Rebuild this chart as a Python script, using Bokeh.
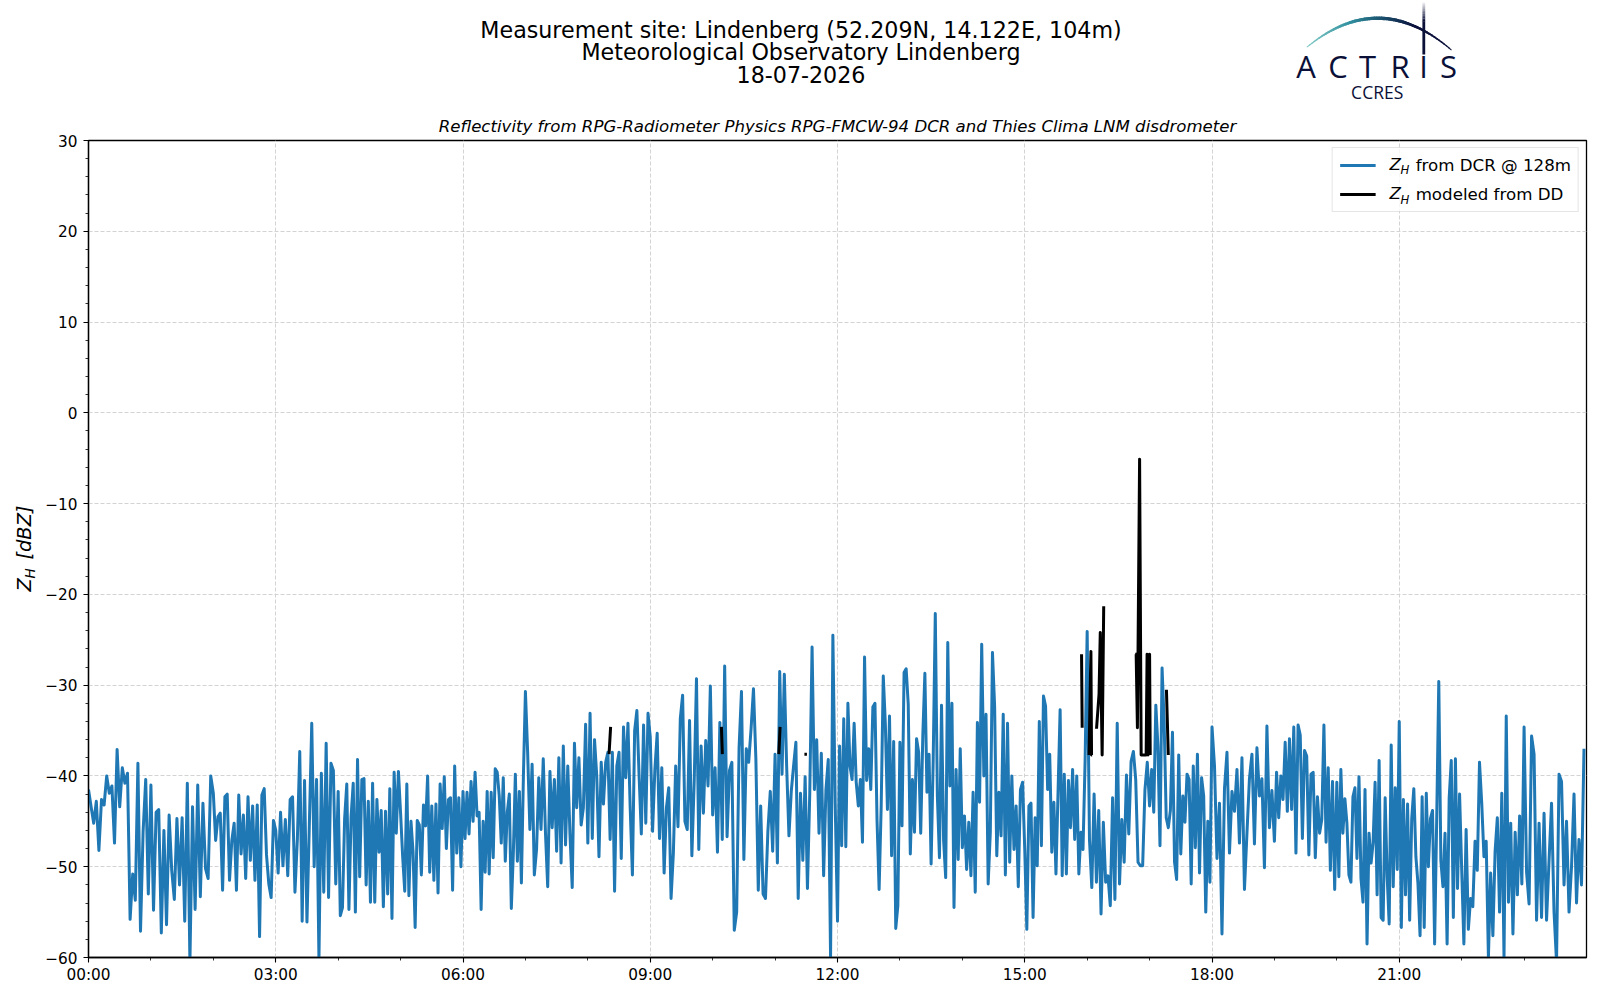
import math
from bokeh.plotting import figure
from bokeh.layouts import column, row
from bokeh.models import (Range1d, FixedTicker, Label, Legend, LegendItem, BoxAnnotation)
from bokeh.core.properties import value
from bokeh.embed import file_html
from bokeh.resources import INLINE

title_lines = ["Measurement site: Lindenberg (52.209N, 14.122E, 104m)",
               "Meteorological Observatory Lindenberg", "18-07-2026"]
subtitle = "Reflectivity from RPG-Radiometer Physics RPG-FMCW-94 DCR and Thies Clima LNM disdrometer"
x_tick_hours = [0, 3, 6, 9, 12, 15, 18, 21]
x_tick_labels = ["00:00", "03:00", "06:00", "09:00", "12:00", "15:00", "18:00", "21:00"]
y_ticks = [-60, -50, -40, -30, -20, -10, 0, 10, 20, 30]
dcr_label = "from DCR @ 128m"
dd_label = "modeled from DD"

h00 = [-41.5,-43.4,-45.2,-42.8,-48.2,-42.6,-43.2,-40,-41.9,-41.1,-47.4,-37.1,-43.4,-39.1,-40.8,-39.7,-55.8,-50.8,-53.7,-38.6,-57.1,-46.1,-40.4,-53]
h01 = [-41,-54.8,-44,-43.7,-57.3,-46,-56.4,-44.3,-50.4,-53.6,-44.7,-52,-44.6,-56,-40.8,-60.5,-43.4,-54.7,-41,-53.3,-43,-50.2,-51.3,-40]
h02 = [-41.9,-47.1,-44.5,-44.1,-52.6,-42.3,-42,-51.5,-47.1,-45.2,-52.6,-42.1,-48.6,-44.3,-51.3,-42.3,-49.3,-43.3,-51.5,-43.2,-57.7,-42.1,-41.4,-48.7,-51.9,-53.4,-44.9]
h03 = [-46,-50.7,-44,-49.9,-44.8,-51,-42.6,-42.3,-52.8,-47,-37.3,-56,-40.5,-56.1,-45.3,-34.2,-50,-40.4,-60.2,-39.7,-52.8,-36.4,-53.4,-38.6,-39.4,-51.9]
h04 = [-41.7,-55.4,-54.5,-44.7,-40.9,-54.7,-44.5,-40.8,-55,-38.2,-51.1,-40.4,-40.3,-52,-42.8,-53.9,-40.8,-53.9,-42.6,-48.4,-43.8,-54.4,-43.9,-53,-41.4,-55.7,-39.6,-46.3,-39.5]
h05 = [-44.1,-48.9,-52.7,-40.9,-53.2,-45,-48.4,-56.7,-44.9,-45.4,-50.9,-43.2,-45.5,-40,-50.6,-43.3,-51.5,-43.1,-52.9,-40.9,-45.8,-40.1,-48,-42.6,-42.4,-52.6,-38.9,-48.5,-42.4,-50]
h06 = [-41.7,-46.9,-41.8,-46.4,-40.6,-45,-39.6,-44.4,-44,-54.7,-45,-50.6,-41.7,-50.8,-41.8,-49,-39.2,-39.6,-42.2,-47.4,-40.2,-49.4,-44,-42,-54.6,-48.5,-39.8,-49.4,-41.7,-51.8,-40]
h07 = [-30.7,-37.4,-45.9,-38.7,-50.9,-48.1,-40.2,-45.9,-38.1,-46.3,-52.2,-39.5,-45.7,-40.4,-48.3,-38,-49.6,-36.7,-47.6,-38.9,-46.5,-52.3,-36.4,-43.5,-38,-45.4,-43.5,-34.3]
h08 = [-47.4,-33.1,-46.9,-36,-40,-48.9,-38.5,-43.1,-38.5,-37.4,-47,-37.4,-52.7,-38.9,-37.4,-49.1,-34.6,-40.2,-34.2,-43.5,-50.9,-35,-32.8,-40,-46.4,-34.4,-45.2,-33.1]
h09 = [-35.7,-46.1,-39.3,-35.3,-46.9,-39.1,-50.7,-43.5,-41.3,-53.5,-48.5,-38.9,-45.6,-33.7,-31.1,-45,-45.9,-33.9,-48.8,-40.7,-29.3,-48.1,-36.7,-44.1,-36.1,-41.1,-30.1]
h10 = [-44.3,-39.1,-48.4,-34.1,-47,-27.9,-46.7,-39.4,-38.5,-57,-55,-36.9,-30.7,-49.2,-37,-38.5,-34.8,-30.4,-38.1,-52.6,-43.3,-53,-53.5,-46.1,-41.7,-48.3]
h11 = [-37.6,-49.6,-28.5,-39.8,-28.8,-38.9,-46.6,-41.7,-38.9,-36.3,-53.5,-41.9,-49.3,-40.1,-52.4,-41.9,-25.8,-41.5,-36,-46.3,-37.5,-51,-41.5,-38.2,-60,-24.5,-43]
h12 = [-56,-36.7,-47.7,-33.7,-47.8,-32,-38.9,-40.4,-34.2,-40.7,-43.3,-40.4,-47.3,-26.9,-40.5,-37,-41.5,-32.4,-32,-44.9,-52.5,-43.3,-29,-34.3,-43.7,-33.4,-48.8,-36.2,-56.8,-54.3]
h13 = [-36.3,-45.5,-28.6,-28.2,-32.1,-48.6,-40.4,-46.2,-35.9,-37.4,-46.3,-35.6,-28.7,-41.8,-37.6,-49.7,-38.2,-22.1,-42.2,-49,-32.2,-47.1,-51.2,-25.3,-41.1,-32,-54.5,-39.3,-49.2,-37]
h14 = [-47.9,-44.4,-50.3,-45.1,-51,-41.8,-52.8,-34.1,-42.9,-25.5,-40,-33.2,-51.9,-46.2,-26.4,-32.3,-48.8,-41.8,-46.6,-33.2,-50.9,-34.2,-49.5,-40,-48.1,-43.3,-52.2,-41.5,-40.7]
h15 = [-48.1,-56.9,-43.3,-43,-55.6,-44.6,-49.9,-34,-47.7,-31.2,-32.3,-41.5,-37.6,-48.4,-42.9,-50.8,-41.8,-32.7,-51,-39.8,-50.8,-40.5,-45.7,-39.3,-47,-40,-50.8,-46.2,-48.1,-38.4]
h16 = [-24.1,-47,-52.3,-42,-51.7,-43.8,-55.2,-45.1,-51.7,-51,-54.3,-42.4,-53.6,-34.2,-51.9,-44.8,-49.5,-39.9,-46.4,-38.4,-37.3,-40.4,-49.5,-49.9,-49.9,-41.5,-38.5]
h17 = [-43.3,-39.3,-44,-32.2,-36.7,-47.7,-28.1,-34.1,-44.6,-45.7,-43.8,-35.2,-49.5,-51.4,-37.7,-48.6,-42.2,-45.1,-39.8,-40.4,-51.9,-38.9,-47.9,-37.6,-50.7,-40.2,-42.2,-55,-45,-51.7]
h18 = [-34.6,-38.9,-49.1,-43,-57.4,-41.4,-37.4,-48.5,-41.7,-43.9,-39.3,-47.4,-38,-52.5,-46.3,-40.3,-37.6,-47.5,-36.9,-42.2,-40.3,-50.1,-34.5,-45.7,-41.6]
h19 = [-47.2,-39.6,-44.6,-40,-42.6,-36.3,-43.9,-35.9,-43.7,-34.6,-48.5,-34.4,-35.5,-46.9,-37.2,-37.8,-48.7,-39.8,-39.6,-49,-42.3,-46.3,-44.8,-34.4,-47.3,-39.1,-50.4,-40.6,-52.5]
h20 = [-40.7,-51.1,-39.3,-46.3,-42.5,-45.2,-50.9,-51.7,-42.3,-41.3,-49.1,-40.1,-51.3,-53.9,-41.5,-58.5,-46.3,-49.6,-47.4,-40.7,-53.1,-38.3,-55.6,-55.9,-42.4,-51.1,-56.3,-36.6,-52.2,-41.3,-50.3]
h21 = [-34,-56.7,-42.6,-53.1,-43.1,-55.9,-44.7,-41.4,-48.9,-51.9,-57.6,-42.3,-56.7,-41.9,-50,-44.7,-43.8,-58.5,-44.8,-29.6,-49.3,-52.2,-46.3,-58.5,-42.4,-38.3,-55.6,-38.1,-52.4,-42]
h22 = [-50.2,-58.5,-45.9,-56.9,-53.5,-54.4,-47.2,-50.4,-38.5,-43,-48.9,-47.2,-60,-50.7,-57.6,-48.3,-44.6,-55,-41.9,-60,-33.4,-53.9,-45.2,-57.4,-46.2,-53.1,-44.4,-51.9]
h23 = [-34.6,-50.6,-54.1,-35.6,-37.6,-55.9,-45.2,-55.6,-44.1,-55.9,-49.3,-43,-55,-60.5,-39.8,-40.6,-52,-45,-55,-50,-42,-54,-47,-52,-37]
dcr_by_hour = [h00,h01,h02,h03,h04,h05,h06,h07,h08,h09,h10,h11,h12,h13,h14,h15,h16,h17,h18,h19,h20,h21,h22,h23]

GAP = float("nan")
dd_hours = [8.34,8.365,GAP,10.14,10.155,GAP,11.06,11.08,GAP,11.47,11.51,GAP,
            15.91,15.92,GAP,16.03,16.06,16.07,16.08,GAP,16.15,16.19,16.21,16.24,16.265,GAP,
            16.77,16.785,16.805,16.84,16.865,16.89,16.945,16.96,16.975,17.0,17.01,GAP,17.27,17.30]
dd_values = [-37.6,-34.6,GAP,-34.6,-37.6,GAP,-37.6,-34.6,GAP,-37.6,-37.6,GAP,
             -26.6,-34.7,GAP,-37.7,-26.3,-37.7,-37.7,GAP,-34.8,-31,-24.2,-37.7,-21.3,GAP,
             -26.6,-26.6,-34.7,-5.1,-37.7,-37.7,-37.7,-26.6,-37.7,-26.6,-37.7,GAP,-30.5,-37.7]

dcr_x, dcr_y = [], []
for h, r in enumerate(dcr_by_hour):
    for i, v in enumerate(r):
        dcr_x.append(h + i / len(r))
        dcr_y.append(v)

FONT = "DejaVu Sans"
NAVY = "#0b1038"
W = 1600
SIDE_W = 40
FRAME_L, FRAME_R, HEAD_H, FRAME_T, FRAME_B = 88, 1586, 108, 140, 957

# ---------- header: title block and logo, in page pixels ----------
head = figure(width=W, height=HEAD_H, x_range=Range1d(FRAME_L, FRAME_R), y_range=Range1d(HEAD_H, 0),
              output_backend="svg", toolbar_location=None, min_border=0,
              min_border_left=FRAME_L, min_border_right=W - FRAME_R)
head.axis.visible = False
head.grid.visible = False
head.outline_line_color = None

for t, y in zip(title_lines, [29, 51.5, 74]):
    head.text(x=[800.5], y=[y], text=[t], text_font=value(FONT), text_font_size="22.2px",
              text_align="center", text_baseline="alphabetic", text_color="#000000")

# logo arc
n = 60
x0, x1, xm, y0, ym = 1306.7, 1450.7, 1377, 49.3, 17.7
def lerp(a, b, t):
    return a + (b - a) * t
def logo_colour(t):
    stops = [(0, (135, 205, 200)), (0.3, (50, 145, 160)), (0.55, (25, 75, 105)), (0.75, (12, 18, 60)), (1, (11, 16, 56))]
    for (a, ca), (b, cb) in zip(stops, stops[1:]):
        if t <= b:
            f = (t - a) / (b - a)
            return "#%02x%02x%02x" % tuple(int(lerp(p, q, f)) for p, q in zip(ca, cb))
    return NAVY
for i in range(n):
    t0, t1 = i / n, (i + 1) / n
    xs = [lerp(x0, x1, t0), lerp(x0, x1, t1)]
    ys = [ym + (y0 - ym) * ((x - xm) / (x1 - xm)) ** 2 for x in xs]
    lw = 1.0 + 2.4 * math.sin(math.pi * (t0 + t1) / 2)
    head.line(xs, ys, line_color=logo_colour((t0 + t1) / 2), line_width=lw, line_cap="round")
# vertical mast
for i in range(12):
    yy = [2 + i * 1.6, 2 + (i + 1) * 1.6]
    head.line([1423.3, 1423.3], yy, line_color=NAVY, line_width=2.8, line_alpha=(i + 1) / 12)
head.line([1423.3, 1423.3], [21, 54], line_color=NAVY, line_width=2.8)

logo_letters = ["A", "C", "T", "R", "I", "S"]
logo_xs = [1305.5, 1337.5, 1367, 1399.5, 1423, 1448]
head.text(x=logo_xs, y=[65.2] * 6, text=logo_letters, text_font=value("Open Sans"), text_font_size="31px",
          text_align="center", text_baseline="alphabetic", text_color=NAVY)
head.text(x=[1376.7], y=[91.5], text=["CCRES"], text_font=value("Open Sans"), text_font_size="17.5px",
          text_align="center", text_baseline="alphabetic", text_color=NAVY)

# ---------- y axis title, in page pixels ----------
side = figure(width=SIDE_W, height=1000 - HEAD_H, x_range=Range1d(0, SIDE_W), y_range=Range1d(FRAME_B, FRAME_T),
              output_backend="svg", toolbar_location=None, min_border=0,
              min_border_top=FRAME_T - HEAD_H, min_border_bottom=1000 - FRAME_B)
side.axis.visible = False
side.grid.visible = False
side.outline_line_color = None
A = math.pi / 2
def side_text(text, px, py, size):
    side.text(x=[px], y=[py], text=[text], angle=A, text_font=value(FONT), text_font_size=size,
              text_font_style="italic", text_align="left", text_baseline="alphabetic", text_color="#000000")
side_text("Z", 24, 591, "19.4px")
side_text("H", 29, 578, "13.6px")
side_text("[dBZ]", 24, 559, "19.4px")

# ---------- main plot ----------
p = figure(width=W - SIDE_W, height=1000 - HEAD_H, x_range=Range1d(0, 24), y_range=Range1d(-60, 30),
           output_backend="svg", toolbar_location=None,
           min_border_left=FRAME_L - SIDE_W, min_border_right=W - FRAME_R, min_border_top=FRAME_T - HEAD_H,
           min_border_bottom=1000 - FRAME_B)
p.title.text = subtitle
p.title.align = "center"
p.title.offset = -1.5
p.title.text_font = FONT
p.title.text_font_size = "16.6px"
p.title.text_font_style = "italic"
p.title.text_color = "#000000"
p.title.standoff = 10
p.outline_line_color = "#000000"
p.outline_line_width = 1.3
p.background_fill_color = "#ffffff"

hour_minor = [h for h in range(0, 25) if h % 3 != 0]
y_minor = [v for v in range(-60, 31, 2) if v % 10 != 0]
p.xaxis.ticker = FixedTicker(ticks=x_tick_hours, minor_ticks=hour_minor)
p.yaxis.ticker = FixedTicker(ticks=y_ticks, minor_ticks=y_minor)
p.xgrid.ticker = FixedTicker(ticks=x_tick_hours)
p.ygrid.ticker = FixedTicker(ticks=y_ticks)
p.xaxis.major_label_overrides = dict(zip(x_tick_hours, x_tick_labels))
p.yaxis.major_label_overrides = {v: (str(v).replace("-", "\u2212")) for v in y_ticks}
for ax in (p.xaxis, p.yaxis):
    ax.major_label_text_font = FONT
    ax.major_label_text_font_size = "15.3px"
    ax.major_label_text_color = "#000000"
    ax.axis_line_color = "#000000"
    ax.axis_line_width = 1.3
    ax.major_tick_line_color = "#000000"
    ax.minor_tick_line_color = "#000000"
    ax.major_tick_line_width = 1.1
    ax.minor_tick_line_width = 0.8
    ax.major_tick_in = 0
    ax.minor_tick_in = 0
    ax.major_tick_out = 5
    ax.minor_tick_out = 3
p.xaxis.major_label_standoff = 3
p.yaxis.major_label_standoff = 6
p.grid.grid_line_color = "#d3d3d3"
p.grid.grid_line_dash = "4 2"
p.grid.grid_line_width = 1

r1 = p.line(dcr_x, dcr_y, line_color="#1f77b4", line_width=3.0, line_join="round")
r2 = p.line(dd_hours, dd_values, line_color="#000000", line_width=3.0, line_join="round")

def hour_at(px):
    return (px - FRAME_L) * 24 / (FRAME_R - FRAME_L)
def db_at(py):
    return 30 - (py - FRAME_T) * 90 / (FRAME_B - FRAME_T)

# veil behind the legend (the legend itself is kept see-through so its math labels stay black)
p.add_layout(BoxAnnotation(left=hour_at(1335), right=hour_at(1579), top=db_at(147), bottom=db_at(211),
                           fill_color="#ffffff", fill_alpha=0.8, line_color=None, level="glyph"))

legend = Legend(items=[LegendItem(label=dcr_label, renderers=[r1]), LegendItem(label=dd_label, renderers=[r2])],
                location="top_right", margin=7, padding=7, spacing=9, glyph_width=36, glyph_height=20,
                label_height=20, label_standoff=40, label_text_font=FONT, label_text_font_size="16.67px",
                label_text_color="#000000", border_line_color="#cccccc", border_line_width=1,
                background_fill_alpha=0)
p.add_layout(legend)

def lab(text, px, py, size):
    p.add_layout(Label(x=hour_at(px), y=db_at(py), x_units="data", y_units="data", text=text,
                       text_font=FONT, text_font_size=size, text_font_style="italic",
                       text_align="left", text_baseline="alphabetic", text_color="#000000", level="overlay"))

for py in (163.5, 193):
    lab("Z", 1389, py, "16.67px")
    lab("H", 1400, py + 6, "11.7px")

open("out.html", "w").write(file_html(column(head, row(side, p, spacing=0), spacing=0), INLINE))
